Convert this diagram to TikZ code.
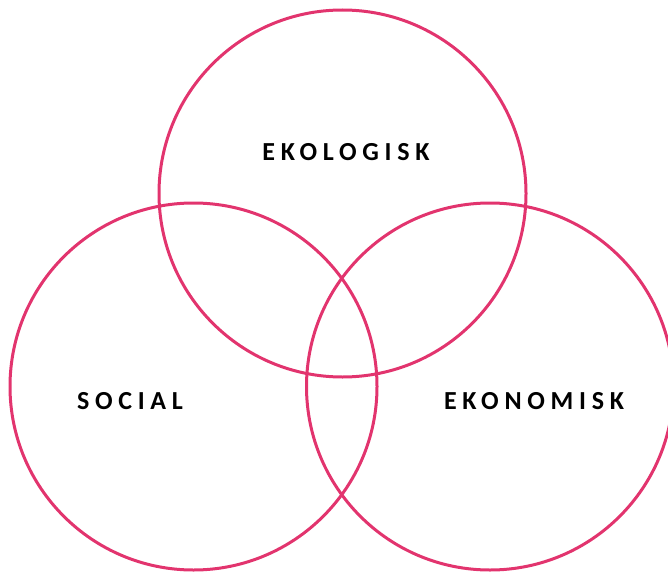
\documentclass[tikz,border=0pt]{standalone}
\usepackage{fontspec}
\newfontfamily\lblfont{Carlito Bold}[LetterSpace=22]
\definecolor{ring}{RGB}{226,52,110}
\begin{document}
\begin{tikzpicture}[x=1pt,y=-1pt,
  ring/.style={draw=ring,line width=3pt},
  lbl/.style={font=\lblfont\fontsize{26}{29}\selectfont,text=black,inner sep=0pt}]
\useasboundingbox (0,0) rectangle (668,572);
\begin{scope}
\clip (0,0) rectangle (668,572);
\node[ring,circle,minimum size=367pt,inner sep=0pt] (eko) at (342.5,193.5) {};
\node[ring,circle,minimum size=367pt,inner sep=0pt] (soc) at (193.5,386.5) {};
\node[ring,circle,minimum size=367pt,inner sep=0pt] (ekn) at (490,386.5) {};
\end{scope}
\node[lbl] (t1) at (346,152) {EKOLOGISK};
\node[lbl] (t2) at (130,401) {SOCIAL};
\node[lbl] (t3) at (534,401) {EKONOMISK};
\end{tikzpicture}
\end{document}
